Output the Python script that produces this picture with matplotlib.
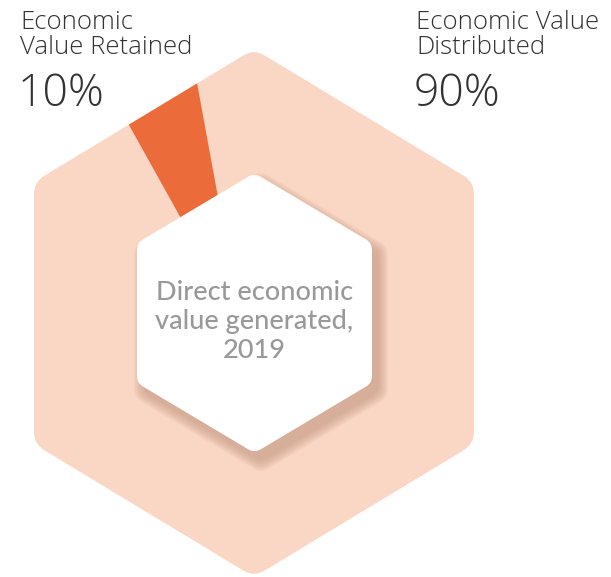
import numpy as np
import matplotlib
matplotlib.use("Agg")
import matplotlib.pyplot as plt
from matplotlib.path import Path
from matplotlib.patches import PathPatch, Wedge

# data
segments = ["Economic\nValue Retained", "Economic Value\nDistributed"]
shares = [10, 90]
center_label = "Direct economic\nvalue generated,\n2019"

ring_color = "#FAD6C4"
slice_color = "#EC6B3A"

W, H = 611, 577


def rounded_hex(cx, cy, hw, hh, sh, r):
    # pointy-top hexagon in pixel coords (y down), rounded corners
    pts = np.array([(cx, cy - hh), (cx + hw, cy - sh), (cx + hw, cy + sh),
                    (cx, cy + hh), (cx - hw, cy + sh), (cx - hw, cy - sh)])
    verts, codes = [], []
    n = len(pts)
    for i in range(n):
        p0, p1, p2 = pts[i - 1], pts[i], pts[(i + 1) % n]
        a = p1 + (p0 - p1) / np.linalg.norm(p0 - p1) * r
        b = p1 + (p2 - p1) / np.linalg.norm(p2 - p1) * r
        if i == 0:
            verts.append(a); codes.append(Path.MOVETO)
        else:
            verts.append(a); codes.append(Path.LINETO)
        verts += [p1, b]; codes += [Path.CURVE3, Path.CURVE3]
    verts.append(verts[0]); codes.append(Path.CLOSEPOLY)
    verts = [(x, H - y) for x, y in verts]
    return Path(verts, codes)


fig = plt.figure(figsize=(W / 100, H / 100), dpi=100)
ax = fig.add_axes([0, 0, 1, 1])
ax.set_xlim(0, W)
ax.set_ylim(0, H)
ax.axis("off")

outer = PathPatch(rounded_hex(254, 313, 220, 264, 131, 12), fc=ring_color, ec="none", zorder=1)
ax.add_patch(outer)

# retained slice
apex = (242, H - 328)
wedge = Wedge(apex, 400, 100.4, 119.1, fc=slice_color, ec="none", zorder=2)
ax.add_patch(wedge)
wedge.set_clip_path(outer)

# inner hexagon shadow
for k in range(9):
    sp = rounded_hex(254 + 7, 313 + 9, 117.5 + k * 1.2, 140 + k * 1.4, 70 + k * 0.7, 8)
    ax.add_patch(PathPatch(sp, fc="#B88A74", ec="none", alpha=0.07, zorder=3))
inner = PathPatch(rounded_hex(254.5, 313, 117.5, 140, 70, 7), fc="white", ec="none", zorder=4)
ax.add_patch(inner)

ax.text(254.5, H - 321, center_label, ha="center", va="center", fontsize=19.5,
        color="#999999", family="Lato", fontweight="medium", linespacing=1.2, zorder=5)

# labels
lab = dict(ha="left", va="top", color="#333333", family="Open Sans", fontweight="light")
ax.text(20, H - 10, segments[0], fontsize=18.5, linespacing=1.02, **lab)
ax.text(18, H - 73, f"{shares[0]}%", fontsize=32, **lab)
ax.text(416, H - 10, segments[1], fontsize=18.5, linespacing=1.02, **lab)
ax.text(414, H - 73, f"{shares[1]}%", fontsize=32, **lab)

fig.savefig("out.png", dpi=100)
